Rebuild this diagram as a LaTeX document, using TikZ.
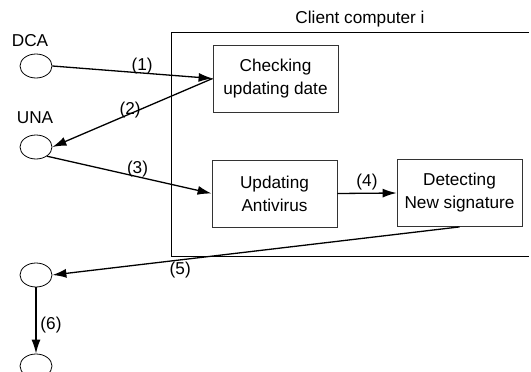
\documentclass[tikz,border=0pt]{standalone}
\usepackage{fontspec}
\setmainfont{Liberation Sans}
\usetikzlibrary{shapes.geometric,arrows.meta}
\begin{document}
\begin{tikzpicture}[x=1pt,y=-1pt,
  every node/.style={font=\fontsize{17.2}{23}\selectfont},
  proc/.style={draw=black!80,line width=0.8pt,minimum width=125pt,minimum height=67pt,inner sep=0pt,align=center},
  ell/.style={draw,ellipse,line width=0.8pt,minimum width=32pt,minimum height=24pt,inner sep=0pt},
  arr/.style={line width=1.3pt,-{Latex[length=14pt,width=9pt]}},
  lab/.style={inner sep=0pt}]
\useasboundingbox (0,0) rectangle (531,372);
% outer box (clipped on the right)
\draw[line width=0.9pt] (529,32) -- (171,32) -- (171,256) -- (529,256);
\node[lab] (cc) at (360,19) {Client computer i};
% process boxes
\node[proc] (chk) at (275.5,78.5) {Checking\\updating date};
\node[proc] (upd) at (274.5,193.5) {Updating\\Antivirus};
\node[proc] (det) at (459.5,193) {Detecting\\New signature};
% ellipses
\node[ell] (dca) at (36,66) {};
\node[lab] (dcal) at (30,41) {DCA};
\node[ell] (una) at (36,147) {};
\node[lab] (unal) at (35,118) {UNA};
\node[ell] (e3) at (36,275) {};
\node[ell] (e4) at (36,366) {};
% connectors
\draw[arr] (dca.east) -- node[lab,pos=0.56,yshift=7pt] {(1)} (chk.west);
\draw[arr] (chk.west) -- node[lab,pos=0.515,yshift=4pt] {(2)} (una.east);
\draw[arr] (una.-40) -- node[lab,pos=0.55,yshift=8pt] {(3)} (upd.west);
\draw[arr] (upd.east) -- node[lab,pos=0.5,yshift=11pt] {(4)} (det.west);
\draw[arr] (det.south) -- node[lab,pos=0.686,yshift=-10pt] {(5)} (e3.east);
\draw[arr] (e3.south) -- node[lab,pos=0.57,xshift=15pt] {(6)} (e4.north);
\end{tikzpicture}
\end{document}
